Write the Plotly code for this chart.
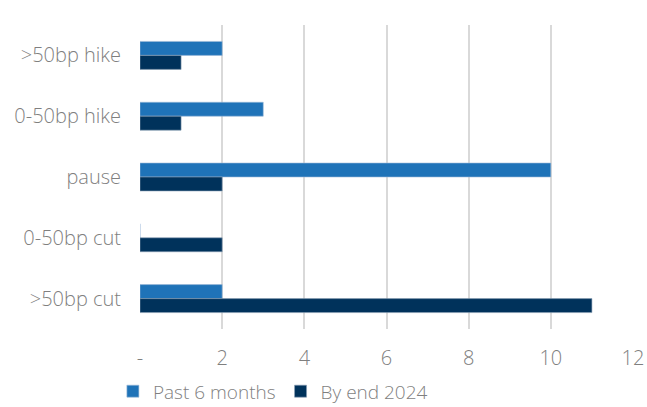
import plotly.graph_objects as go

categories = [">50bp hike", "0-50bp hike", "pause", "0-50bp cut", ">50bp cut"]
past_6_months = [2, 3, 10, 0, 2]
by_end_2024 = [1, 1, 2, 2, 11]
x_tickvals = [0, 2, 4, 6, 8, 10, 12]
x_ticktext = ["-", "2", "4", "6", "8", "10", "12"]

FONT = "Open Sans"
FS = 20
GRAY = "#7f7f7f"
tf = dict(family=FONT, size=FS, color=GRAY, weight=300)

fig = go.Figure()
fig.add_trace(go.Bar(
    y=categories, x=past_6_months, orientation="h", name="Past 6 months",
    marker=dict(color="#1f73b8", line=dict(color="#9dbbd8", width=0.6)),
))
fig.add_trace(go.Bar(
    y=categories, x=by_end_2024, orientation="h", name="By end 2024",
    marker=dict(color="#00325b", line=dict(color="#8aa0b5", width=0.6)),
))

fig.update_layout(
    width=647, height=407,
    margin=dict(l=140, r=14, t=25, b=78, autoexpand=False),
    plot_bgcolor="white", paper_bgcolor="white",
    barmode="group", bargap=0.54, bargroupgap=0,
    font=tf,
    showlegend=True,
    legend=dict(
        orientation="h", x=-0.055, xanchor="left",
        y=-0.205, yanchor="middle",
        font=dict(family=FONT, size=19, color=GRAY, weight=300),
        itemwidth=30, tracegroupgap=0,
        bgcolor="rgba(0,0,0,0)",
    ),
    xaxis=dict(
        range=[0, 12], tickvals=x_tickvals, ticktext=x_ticktext,
        showgrid=True, gridcolor="#d9d9d9", gridwidth=1.5,
        zeroline=False, showline=False, ticks="", automargin=False,
        ticklabelstandoff=15,
        tickfont=tf,
    ),
    yaxis=dict(
        autorange="reversed", showgrid=False, zeroline=False, showline=False,
        ticks="", ticklabelstandoff=18, automargin=False,
        tickfont=tf,
    ),
)

fig.write_html("out.html")
